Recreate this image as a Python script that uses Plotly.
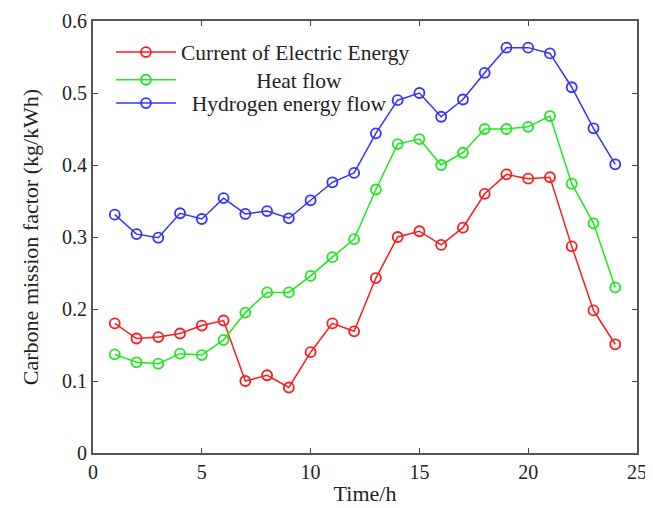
import plotly.graph_objects as go

hours = list(range(1, 25))
electric = [0.180, 0.159, 0.161, 0.166, 0.177, 0.184, 0.100, 0.108, 0.091, 0.140, 0.180, 0.169,
            0.243, 0.300, 0.308, 0.289, 0.313, 0.360, 0.387, 0.381, 0.383, 0.287, 0.198, 0.151]
heat = [0.137, 0.126, 0.124, 0.138, 0.136, 0.157, 0.195, 0.223, 0.223, 0.246, 0.272, 0.297,
        0.366, 0.429, 0.436, 0.400, 0.417, 0.450, 0.450, 0.453, 0.468, 0.374, 0.319, 0.230]
hydrogen = [0.331, 0.304, 0.299, 0.333, 0.325, 0.354, 0.332, 0.336, 0.326, 0.351, 0.376, 0.389,
            0.444, 0.490, 0.500, 0.467, 0.491, 0.528, 0.563, 0.563, 0.555, 0.508, 0.451, 0.401]
x_ticks = [0, 5, 10, 15, 20, 25]
y_ticks = [0, 0.1, 0.2, 0.3, 0.4, 0.5, 0.6]
y_tick_text = ["0", "0.1", "0.2", "0.3", "0.4", "0.5", "0.6"]

NB = "\u00a0"
series = [
    ("Current of Electric Energy", electric, "#ff1a1a", "legend", 0.928),
    (NB * 14 + "Heat flow", heat, "#1aeb1a", "legend2", 0.864),
    (NB * 2 + "Hydrogen energy flow", hydrogen, "#3333ff", "legend3", 0.810),
]

fig = go.Figure()
legend_layouts = {}
for name, vals, col, lg, ly in series:
    fig.add_trace(go.Scatter(
        x=hours, y=vals, name=name, mode="lines+markers", legend=lg,
        line=dict(color=col, width=1.5),
        marker=dict(symbol="circle-open", size=10, color=col, line=dict(width=1.8, color=col)),
    ))
    legend_layouts[lg] = dict(
        x=0.033, y=ly, xanchor="left", yanchor="middle",
        bgcolor="rgba(0,0,0,0)", borderwidth=0,
        font=dict(family="Liberation Serif", size=21.5, color="#222222"),
        itemwidth=60,
    )

axis_common = dict(
    showline=True, linecolor="#555555", linewidth=2, mirror="ticks",
    ticks="inside", ticklen=5, tickcolor="#444444", tickwidth=1,
    showgrid=False, zeroline=False, automargin=False,
    tickfont=dict(family="Liberation Serif", size=20, color="#222222"),
)

fig.update_layout(
    width=645, height=500,
    margin=dict(l=85, r=16, t=13, b=55),
    paper_bgcolor="white", plot_bgcolor="white",
    font=dict(family="Liberation Serif", size=20, color="#222222"),
    xaxis=dict(range=[0, 25], tickvals=x_ticks,
               title=dict(text="Time/h", font=dict(size=22), standoff=4), **axis_common),
    yaxis=dict(range=[0, 0.6], tickvals=y_ticks, ticktext=y_tick_text,
               title=dict(text="Carbone mission factor (kg/kWh)", font=dict(size=22), standoff=17),
               **axis_common),
    showlegend=True,
    **legend_layouts,
)

fig.write_html("out.html")
